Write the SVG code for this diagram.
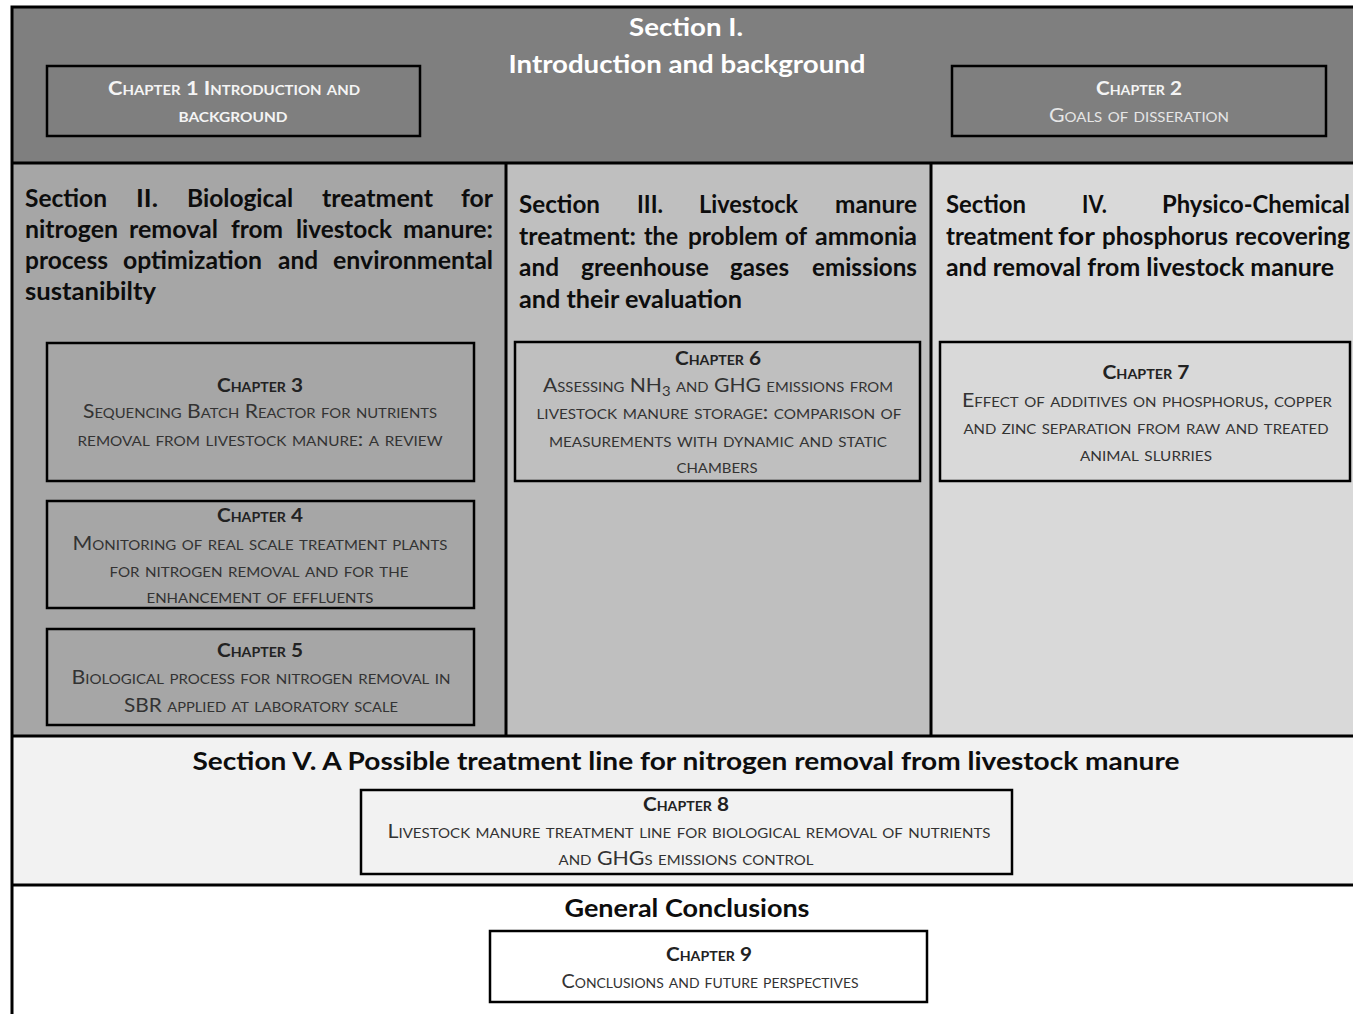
<svg xmlns="http://www.w3.org/2000/svg" width="1353" height="1014" viewBox="0 0 1353 1014">
<style>
.sec{font-family:Lato,"Open Sans",sans-serif;font-weight:bold;font-size:24px;fill:#0d0d0d}
.ttl{font-family:Lato,"Open Sans",sans-serif;font-weight:bold;font-size:24px;fill:#ffffff}
.chh{font-family:Lato,"Open Sans",sans-serif;font-weight:bold;font-size:19px;font-variant:small-caps;fill:#222222;text-anchor:middle}
.chb{font-family:Lato,"Open Sans",sans-serif;font-size:18.5px;font-variant:small-caps;fill:#333333;text-anchor:middle}
.wh{fill:#f4f4f4}
.wl{fill:#e6e6e6}
.box{fill:none;stroke:#000;stroke-width:2.5}
.ln{stroke:#000;stroke-width:3;fill:none}
.mid{text-anchor:middle}
</style>
<rect x="0" y="0" width="1353" height="1014" fill="#ffffff"/>
<g id="section-1">
<rect x="12" y="7" width="1341" height="156" fill="#7f7f7f"/>
<text class="ttl mid" x="686" y="36" textLength="114" lengthAdjust="spacingAndGlyphs">Section I.</text>
<text class="ttl mid" x="687" y="73" textLength="357" lengthAdjust="spacingAndGlyphs">Introduction and background</text>
</g>
<g id="section-2">
<rect x="12" y="163" width="494" height="573" fill="#a6a6a6"/>
<text class="sec" x="25" y="207" textLength="82" lengthAdjust="spacingAndGlyphs">Section</text>
<text class="sec" x="136" y="207" textLength="22" lengthAdjust="spacingAndGlyphs">II.</text>
<text class="sec" x="187" y="207" textLength="106" lengthAdjust="spacingAndGlyphs">Biological</text>
<text class="sec" x="322" y="207" textLength="111" lengthAdjust="spacingAndGlyphs">treatment</text>
<text class="sec" x="461" y="207" textLength="32" lengthAdjust="spacingAndGlyphs">for</text>
<text class="sec" x="25" y="238" textLength="93" lengthAdjust="spacingAndGlyphs">nitrogen</text>
<text class="sec" x="129" y="238" textLength="89" lengthAdjust="spacingAndGlyphs">removal</text>
<text class="sec" x="231" y="238" textLength="52" lengthAdjust="spacingAndGlyphs">from</text>
<text class="sec" x="296" y="238" textLength="96" lengthAdjust="spacingAndGlyphs">livestock</text>
<text class="sec" x="403" y="238" textLength="90" lengthAdjust="spacingAndGlyphs">manure:</text>
<text class="sec" x="25" y="269" textLength="83" lengthAdjust="spacingAndGlyphs">process</text>
<text class="sec" x="123" y="269" textLength="139" lengthAdjust="spacingAndGlyphs">optimization</text>
<text class="sec" x="278" y="269" textLength="40" lengthAdjust="spacingAndGlyphs">and</text>
<text class="sec" x="333" y="269" textLength="160" lengthAdjust="spacingAndGlyphs">environmental</text>
<text class="sec" x="25" y="300" textLength="131" lengthAdjust="spacingAndGlyphs">sustanibilty</text>
</g>
<g id="section-3">
<rect x="506" y="163" width="425" height="573" fill="#bfbfbf"/>
<text class="sec" x="519" y="213" textLength="81" lengthAdjust="spacingAndGlyphs">Section</text>
<text class="sec" x="637" y="213" textLength="26" lengthAdjust="spacingAndGlyphs">III.</text>
<text class="sec" x="699" y="213" textLength="99" lengthAdjust="spacingAndGlyphs">Livestock</text>
<text class="sec" x="835" y="213" textLength="82" lengthAdjust="spacingAndGlyphs">manure</text>
<text class="sec" x="519" y="245" textLength="117" lengthAdjust="spacingAndGlyphs">treatment:</text>
<text class="sec" x="644" y="245" textLength="34" lengthAdjust="spacingAndGlyphs">the</text>
<text class="sec" x="688" y="245" textLength="90" lengthAdjust="spacingAndGlyphs">problem</text>
<text class="sec" x="785" y="245" textLength="22" lengthAdjust="spacingAndGlyphs">of</text>
<text class="sec" x="815" y="245" textLength="102" lengthAdjust="spacingAndGlyphs">ammonia</text>
<text class="sec" x="519" y="276" textLength="40" lengthAdjust="spacingAndGlyphs">and</text>
<text class="sec" x="581" y="276" textLength="128" lengthAdjust="spacingAndGlyphs">greenhouse</text>
<text class="sec" x="730" y="276" textLength="59" lengthAdjust="spacingAndGlyphs">gases</text>
<text class="sec" x="812" y="276" textLength="105" lengthAdjust="spacingAndGlyphs">emissions</text>
<text class="sec" x="519" y="308" textLength="223" lengthAdjust="spacingAndGlyphs">and their evaluation</text>
</g>
<g id="section-4">
<rect x="931" y="163" width="422" height="573" fill="#d9d9d9"/>
<text class="sec" x="946" y="213" textLength="80" lengthAdjust="spacingAndGlyphs">Section</text>
<text class="sec" x="1082" y="213" textLength="25" lengthAdjust="spacingAndGlyphs">IV.</text>
<text class="sec" x="1162" y="213" textLength="188" lengthAdjust="spacingAndGlyphs">Physico-Chemical</text>
<text class="sec" x="946" y="245" textLength="107" lengthAdjust="spacingAndGlyphs">treatment</text>
<text class="sec" x="1058" y="245" textLength="37" lengthAdjust="spacingAndGlyphs">for</text>
<text class="sec" x="1102" y="245" textLength="126" lengthAdjust="spacingAndGlyphs">phosphorus</text>
<text class="sec" x="1235" y="245" textLength="115" lengthAdjust="spacingAndGlyphs">recovering</text>
<text class="sec" x="946" y="276" textLength="388" lengthAdjust="spacingAndGlyphs">and removal from livestock manure</text>
</g>
<g id="section-5">
<rect x="12" y="736" width="1341" height="149" fill="#f2f2f2"/>
<text class="sec mid" x="686" y="770" textLength="987" lengthAdjust="spacingAndGlyphs">Section V. A Possible treatment line for nitrogen removal from livestock manure</text>
</g>
<g id="general-conclusions">
<text class="sec mid" x="687" y="917" textLength="245" lengthAdjust="spacingAndGlyphs">General Conclusions</text>
</g>
<g id="frame">
<path class="ln" d="M12 1014 V7 H1353 M12 163 H1353 M506 163 V736 M931 163 V736 M12 736 H1353 M12 885 H1353"/>
</g>
<g id="chapter-1">
<rect class="box" x="47" y="66" width="373" height="70"/>
<text class="chh wh" x="234" y="95" textLength="252" lengthAdjust="spacingAndGlyphs">Chapter 1 Introduction and</text>
<text class="chh wh" x="233" y="122" textLength="109" lengthAdjust="spacingAndGlyphs">background</text>
</g>
<g id="chapter-2">
<rect class="box" x="952" y="66" width="374" height="70"/>
<text class="chh wh" x="1139" y="95" textLength="86" lengthAdjust="spacingAndGlyphs">Chapter 2</text>
<text class="chb wl" x="1139" y="122" textLength="180" lengthAdjust="spacingAndGlyphs">Goals of disseration</text>
</g>
<g id="chapter-3">
<rect class="box" x="47" y="343" width="427" height="138"/>
<text class="chh" x="260" y="392" textLength="86" lengthAdjust="spacingAndGlyphs">Chapter 3</text>
<text class="chb" x="260" y="418" textLength="354" lengthAdjust="spacingAndGlyphs">Sequencing Batch Reactor for nutrients</text>
<text class="chb" x="260" y="446" textLength="365" lengthAdjust="spacingAndGlyphs">removal from livestock manure: a review</text>
</g>
<g id="chapter-4">
<rect class="box" x="47" y="501" width="427" height="107"/>
<text class="chh" x="260" y="522" textLength="86" lengthAdjust="spacingAndGlyphs">Chapter 4</text>
<text class="chb" x="260" y="550" textLength="375" lengthAdjust="spacingAndGlyphs">Monitoring of real scale treatment plants</text>
<text class="chb" x="259" y="577" textLength="299" lengthAdjust="spacingAndGlyphs">for nitrogen removal and for the</text>
<text class="chb" x="260" y="603" textLength="227" lengthAdjust="spacingAndGlyphs">enhancement of effluents</text>
</g>
<g id="chapter-5">
<rect class="box" x="47" y="629" width="427" height="96"/>
<text class="chh" x="260" y="657" textLength="86" lengthAdjust="spacingAndGlyphs">Chapter 5</text>
<text class="chb" x="261" y="684" textLength="379" lengthAdjust="spacingAndGlyphs">Biological process for nitrogen removal in</text>
<text class="chb" x="261" y="712" textLength="274" lengthAdjust="spacingAndGlyphs">SBR applied at laboratory scale</text>
</g>
<g id="chapter-6">
<rect class="box" x="515" y="342" width="405" height="139"/>
<text class="chh" x="718" y="365" textLength="86" lengthAdjust="spacingAndGlyphs">Chapter 6</text>
<text class="chb" x="718" y="392" textLength="350" lengthAdjust="spacingAndGlyphs">Assessing NH<tspan font-size="13" dy="4">3</tspan><tspan dy="-4"> and GHG emissions from</tspan></text>
<text class="chb" x="719" y="419" textLength="365" lengthAdjust="spacingAndGlyphs">livestock manure storage: comparison of</text>
<text class="chb" x="718" y="447" textLength="338" lengthAdjust="spacingAndGlyphs">measurements with dynamic and static</text>
<text class="chb" x="717" y="473" textLength="81" lengthAdjust="spacingAndGlyphs">chambers</text>
</g>
<g id="chapter-7">
<rect class="box" x="940" y="342" width="410" height="139"/>
<text class="chh" x="1146" y="379" textLength="87" lengthAdjust="spacingAndGlyphs">Chapter 7</text>
<text class="chb" x="1147" y="407" textLength="370" lengthAdjust="spacingAndGlyphs">Effect of additives on phosphorus, copper</text>
<text class="chb" x="1146" y="434" textLength="365" lengthAdjust="spacingAndGlyphs">and zinc separation from raw and treated</text>
<text class="chb" x="1146" y="461" textLength="132" lengthAdjust="spacingAndGlyphs">animal slurries</text>
</g>
<g id="chapter-8">
<rect class="box" x="361" y="790" width="651" height="84"/>
<text class="chh" x="686" y="811" textLength="86" lengthAdjust="spacingAndGlyphs">Chapter 8</text>
<text class="chb" x="689" y="838" textLength="603" lengthAdjust="spacingAndGlyphs">Livestock manure treatment line for biological removal of nutrients</text>
<text class="chb" x="686" y="865" textLength="255" lengthAdjust="spacingAndGlyphs">and GHGs emissions control</text>
</g>
<g id="chapter-9">
<rect x="490" y="931" width="437" height="71" fill="#ffffff" stroke="#000" stroke-width="2.5"/>
<text class="chh" x="709" y="961" textLength="86" lengthAdjust="spacingAndGlyphs">Chapter 9</text>
<text class="chb" x="710" y="988" textLength="297" lengthAdjust="spacingAndGlyphs">Conclusions and future perspectives</text>
</g>
</svg>
